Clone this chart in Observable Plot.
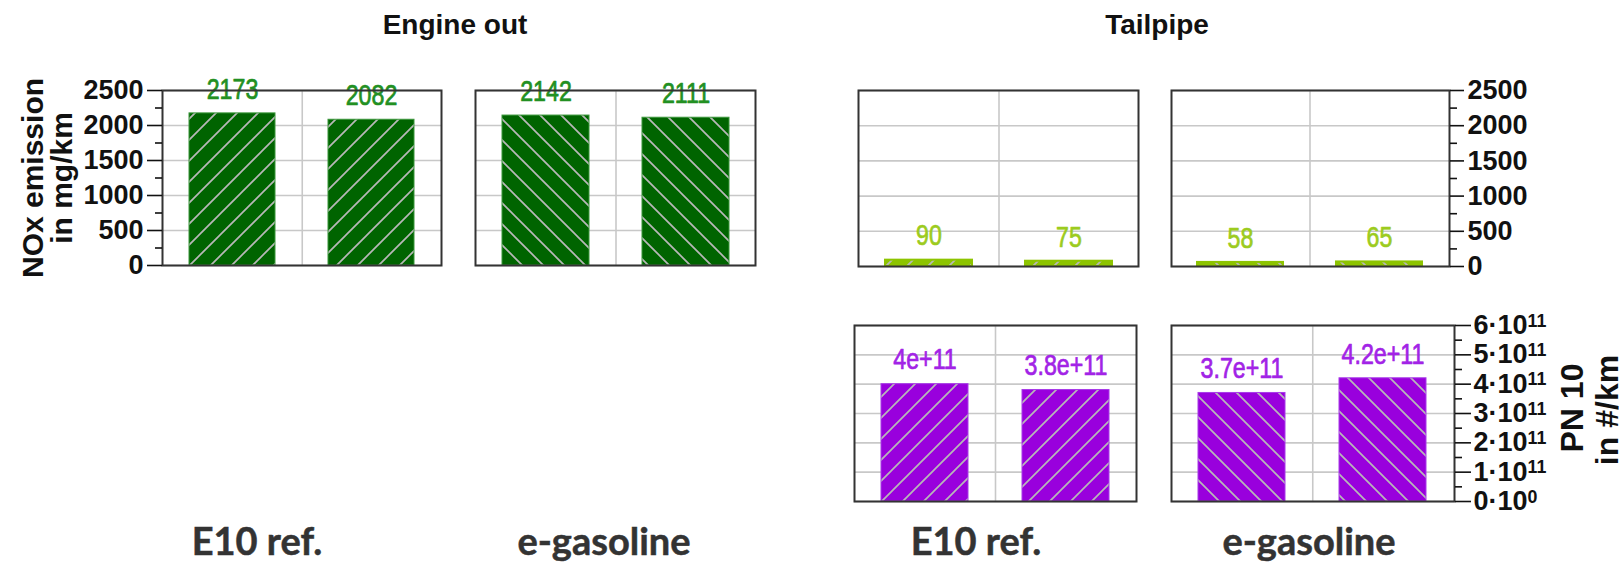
<!DOCTYPE html>
<html>
<head>
<meta charset="utf-8">
<script src="https://cdn.jsdelivr.net/npm/d3@7"></script>
<script src="https://cdn.jsdelivr.net/npm/@observablehq/plot@0.6"></script>
<style>
html, body { margin:0; padding:0; background:#fff; }
#chart { position:relative; width:1619px; height:563px; overflow:hidden; background:#fff; }
#chart svg.panel { position:absolute; }
#overlay { position:absolute; left:0; top:0; }
</style>
</head>
<body>
<div id="chart"></div>
<script>
// ---------------- data ----------------
const fuels = ["E10 ref.", "e-gasoline"];
const runs = ["Run 1", "Run 2"];
const engineOutNOx = [2173, 2082, 2142, 2111];
const engineOutLabels = ["2173", "2082", "2142", "2111"];
const tailpipeNOx = [90, 75, 58, 65];
const tailpipeNOxLabels = ["90", "75", "58", "65"];
const tailpipePN = [4.0e11, 3.8e11, 3.7e11, 4.2e11];
const tailpipePNLabels = ["4e+11", "3.8e+11", "3.7e+11", "4.2e+11"];
const noxTicks = [0, 500, 1000, 1500, 2000, 2500];
const noxMinorTicks = [250, 750, 1250, 1750, 2250];
const noxTickLabels = ["0", "500", "1000", "1500", "2000", "2500"];
const pnTicks = [0, 1e11, 2e11, 3e11, 4e11, 5e11, 6e11];
const pnMinorTicks = [0.5e11, 1.5e11, 2.5e11, 3.5e11, 4.5e11, 5.5e11];
const pnTickLabels = ["0·10⁰", "1·10¹¹", "2·10¹¹", "3·10¹¹", "4·10¹¹", "5·10¹¹", "6·10¹¹"];
const panelTitles = ["Engine out", "Tailpipe"];
const noxTitle = ["NOx emission", "in mg/km"];
const pnTitle = ["PN 10", "in #/km"];

// ---------------- styles ----------------
const kinds = {
  eo: {fill: "#006400", outline: "#3a963a", outlineWidth: 1, label: "#229022", domain: [0, 2500], ticks: noxTicks, minor: noxMinorTicks, tickLabels: noxTickLabels},
  tn: {fill: "#8dc400", outline: "#8dc400", outlineWidth: 2, label: "#9ccb1e", domain: [0, 2500], ticks: noxTicks, minor: noxMinorTicks, tickLabels: noxTickLabels},
  pn: {fill: "#9900dd", outline: "#a73ae8", outlineWidth: 1, label: "#a223e6", domain: [0, 6e11], ticks: pnTicks, minor: pnMinorTicks, tickLabels: pnTickLabels}
};

const chart = document.getElementById("chart");

// hatch pattern definitions
const NS = "http://www.w3.org/2000/svg";
let defs = "";
const S = 21;
for (const [k, st] of Object.entries(kinds)) {
  for (const dir of ["f", "b"]) {
    const d = dir === "f"
      ? `M-6,6 L6,-6 M0,${S} L${S},0 M${S - 6},${S + 6} L${S + 6},${S - 6}`
      : `M-6,${S - 6} L6,${S + 6} M0,0 L${S},${S} M${S - 6},-6 L${S + 6},6`;
    defs += `<pattern id="h-${k}-${dir}" patternUnits="userSpaceOnUse" width="${S}" height="${S}">
      <rect width="${S}" height="${S}" fill="${st.fill}"/>
      <path d="${d}" stroke="#b8b8b8" stroke-width="1.7" fill="none"/>
    </pattern>`;
  }
}
const defSvg = document.createElementNS(NS, "svg");
defSvg.setAttribute("width", 0);
defSvg.setAttribute("height", 0);
defSvg.style.position = "absolute";
defSvg.innerHTML = `<defs>${defs}</defs>`;
chart.appendChild(defSvg);

function rowsFor(values, labels, f) {
  return runs.map((run, r) => ({fuel: fuels[f], run, value: values[f * 2 + r], label: labels[f * 2 + r]}));
}

const specs = [
  {values: engineOutNOx, labels: engineOutLabels, fuel: 0, kind: "eo", frame: [162, 441, 90, 265], axis: "left", tickSize: 15, tickPadding: 4},
  {values: engineOutNOx, labels: engineOutLabels, fuel: 1, kind: "eo", frame: [475, 755, 90, 265]},
  {values: tailpipeNOx, labels: tailpipeNOxLabels, fuel: 0, kind: "tn", frame: [858, 1138, 90, 266]},
  {values: tailpipeNOx, labels: tailpipeNOxLabels, fuel: 1, kind: "tn", frame: [1171, 1449, 90, 266], axis: "right", tickSize: 14, tickPadding: 4},
  {values: tailpipePN, labels: tailpipePNLabels, fuel: 0, kind: "pn", frame: [854, 1136, 325, 501]},
  {values: tailpipePN, labels: tailpipePNLabels, fuel: 1, kind: "pn", frame: [1171, 1454, 325, 501], axis: "right", tickSize: 16, tickPadding: 3}
];

const supMap = {"⁰": "0", "¹": "1", "²": "2", "³": "3", "⁴": "4", "⁵": "5", "⁶": "6", "⁷": "7", "⁸": "8", "⁹": "9"};

for (const sp of specs) {
  const st = kinds[sp.kind];
  const [x0, x1, y0, y1] = sp.frame;
  const W = x1 - x0, H = y1 - y0;
  const ml = sp.axis === "left" ? 110 : 4;
  const mr = sp.axis === "right" ? 110 : 4;
  const mt = 44, mb = 6;
  const data = rowsFor(sp.values, sp.labels, sp.fuel);
  const fmt = d => st.tickLabels[st.ticks.indexOf(d)];
  const marks = [
    Plot.gridY(st.ticks, {stroke: "#c8c8c8", strokeOpacity: 1, strokeWidth: 1.6}),
    Plot.ruleX([runs[0]], {dx: W / 4, stroke: "#c8c8c8", strokeOpacity: 1, strokeWidth: 1.6}),
    Plot.barY(data, {x: "run", y: "value", fill: `url(#h-${sp.kind}-${sp.fuel === 0 ? "f" : "b"})`, stroke: st.outline, strokeWidth: st.outlineWidth}),
    Plot.text(data, {x: "run", y: "value", text: "label", dy: -24, lineAnchor: "middle", fill: st.label,
      stroke: st.label, strokeWidth: 0.7,
      fontSize: 29, fontWeight: "normal", fontFamily: "'Liberation Sans', Arial, sans-serif"}),
    Plot.frame({stroke: "#333", strokeWidth: 2})
  ];
  if (sp.axis) {
    marks.push(Plot.axisY(st.ticks, {anchor: sp.axis, tickSize: sp.tickSize, tickPadding: sp.tickPadding, tickFormat: fmt,
      label: null, stroke: "#111", strokeWidth: 1.6, fill: "#111", fontSize: 27, fontWeight: "bold"}));
    marks.push(Plot.axisY(st.minor, {anchor: sp.axis, tickSize: 7, tickFormat: () => "", label: null, stroke: "#111", strokeWidth: 1.6}));
  }
  const svg = Plot.plot({
    width: W + ml + mr, height: H + mt + mb,
    marginLeft: ml, marginRight: mr, marginTop: mt, marginBottom: mb,
    style: {fontFamily: "'Liberation Sans', Arial, sans-serif", fontSize: "27px", fontWeight: "bold", background: "transparent", overflow: "visible", maxWidth: "none"},
    x: {domain: runs, paddingInner: 0.38, paddingOuter: 0.19, axis: null},
    y: {domain: st.domain, axis: null, label: null},
    marks
  });
  svg.classList.add("panel");
  svg.style.left = (x0 - ml) + "px";
  svg.style.top = (y0 - mt) + "px";

  // real superscripts for exponent tick labels
  svg.querySelectorAll('g[aria-label="y-axis tick label"] text').forEach(el => {
    const s = el.textContent;
    const m = s.match(/^(.*·10)([⁰¹²³⁴⁵⁶⁷⁸⁹]+)$/);
    if (!m) return;
    const exp = [...m[2]].map(c => supMap[c]).join("");
    el.textContent = "";
    const a = document.createElementNS(NS, "tspan");
    a.textContent = m[1];
    const b = document.createElementNS(NS, "tspan");
    b.textContent = exp;
    b.setAttribute("dy", "-0.42em");
    b.setAttribute("font-size", "0.66em");
    el.appendChild(a);
    el.appendChild(b);
  });
  chart.appendChild(svg);

  // condensed look for value labels (narrow font)
  svg.querySelectorAll('g[aria-label="text"] text').forEach(el => {
    const L = el.getComputedTextLength();
    el.setAttribute("textLength", (L * 0.8).toFixed(1));
    el.setAttribute("lengthAdjust", "spacingAndGlyphs");
  });
}

// ---------------- text overlay ----------------
const ov = document.createElementNS(NS, "svg");
ov.setAttribute("id", "overlay");
ov.setAttribute("width", 1619);
ov.setAttribute("height", 563);
const bold = "font-family:'Liberation Sans',Arial,sans-serif;font-weight:bold;fill:#111";
const fuelStyle = "font-family:Lato,'Open Sans',sans-serif;font-weight:700;font-size:38px;fill:#333;stroke:#333;stroke-width:0.5";
ov.innerHTML = `
  <text x="455" y="34" text-anchor="middle" style="${bold};font-size:28px">${panelTitles[0]}</text>
  <text x="1157" y="34" text-anchor="middle" style="${bold};font-size:28px">${panelTitles[1]}</text>
  <text transform="translate(43,178) rotate(-90)" text-anchor="middle" style="${bold};font-size:30px">${noxTitle[0]}</text>
  <text transform="translate(72,178) rotate(-90)" text-anchor="middle" style="${bold};font-size:30px">${noxTitle[1]}</text>
  <text transform="translate(1583,408) rotate(-90)" text-anchor="middle" style="${bold};font-size:32px">${pnTitle[0]}</text>
  <text transform="translate(1618,410) rotate(-90)" text-anchor="middle" style="${bold};font-size:32px">${pnTitle[1]}</text>
  <text x="257" y="555" text-anchor="middle" style="${fuelStyle}">${fuels[0]}</text>
  <text x="604" y="555" text-anchor="middle" style="${fuelStyle}">${fuels[1]}</text>
  <text x="976" y="555" text-anchor="middle" style="${fuelStyle}">${fuels[0]}</text>
  <text x="1309" y="555" text-anchor="middle" style="${fuelStyle}">${fuels[1]}</text>
`;
chart.appendChild(ov);
</script>
</body>
</html>
